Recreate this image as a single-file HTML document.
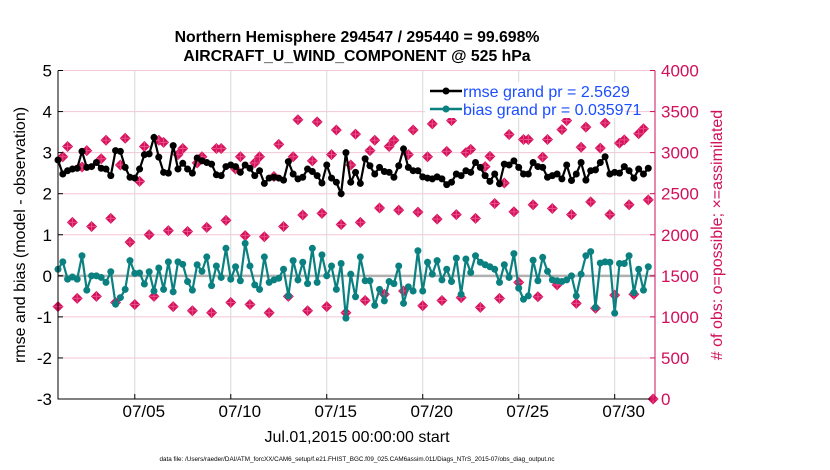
<!DOCTYPE html>
<html><head><meta charset="utf-8"><style>
body{margin:0;background:#fff;}
svg{display:block;font-family:"Liberation Sans",sans-serif;}
</style></head><body>
<svg id="chart" width="830" height="470">
<g id="grid"></g>
<g id="marks"></g>
<g id="axes"></g>
<text x="357" y="42" text-anchor="middle" font-size="15.8" font-weight="bold">Northern Hemisphere 294547 / 295440 = 99.698%</text>
<text x="357" y="61" text-anchor="middle" font-size="15.8" font-weight="bold">AIRCRAFT_U_WIND_COMPONENT @ 525 hPa</text>
<text transform="translate(25,235) rotate(-90)" text-anchor="middle" font-size="16">rmse and bias (model - observation)</text>
<text transform="translate(722,235) rotate(-90)" text-anchor="middle" font-size="16" fill="#d1105a"># of obs: o=possible; ×=assimilated</text>
<text x="357" y="442" text-anchor="middle" font-size="16">Jul.01,2015 00:00:00 start</text>
<text x="357" y="461" text-anchor="middle" font-size="6.3">data file: /Users/raeder/DAI/ATM_forcXX/CAM6_setup/f.e21.FHIST_BGC.f09_025.CAM6assim.011/Diags_NTrS_2015-07/obs_diag_output.nc</text>
<g>
<rect x="425" y="82" width="200" height="36" fill="#fff"/>
<g>
<line x1="430" y1="91" x2="462" y2="91" stroke="#000" stroke-width="2.5"/><circle cx="446" cy="91" r="3.5" fill="#000"/>
<text x="463" y="97" font-size="16" fill="#1a4dff">rmse grand pr = 2.5629</text></g>
<g>
<line x1="430" y1="109" x2="462" y2="109" stroke="#0a8080" stroke-width="2.5"/><circle cx="446" cy="109" r="3.5" fill="#0a8080"/>
<text x="463" y="115" font-size="16" fill="#1a4dff">bias grand pr = 0.035971</text></g>
</g>
</svg>
<script>
const rmse=[2.82,2.48,2.56,2.6,2.62,3.03,2.64,2.66,2.76,2.62,2.6,2.44,3.05,3.03,2.64,2.4,2.38,2.6,2.95,2.97,3.37,2.89,2.52,2.5,3.17,2.6,2.74,2.6,2.5,2.87,2.8,2.76,2.72,2.46,2.44,2.66,2.7,2.66,2.52,2.7,2.62,2.44,2.56,2.25,2.38,2.4,2.38,2.33,2.78,2.48,2.36,2.4,2.6,2.54,2.44,2.26,2.7,2.38,2.28,2.0,3.0,2.28,2.52,2.25,2.85,2.68,2.48,2.64,2.54,2.52,2.4,2.68,3.09,2.64,2.56,2.56,2.41,2.38,2.36,2.41,2.36,2.22,2.28,2.48,2.44,2.56,2.52,2.76,2.64,2.44,2.3,2.48,2.24,2.72,2.7,2.8,2.64,2.48,2.48,2.76,2.66,2.64,2.4,2.44,2.48,2.36,2.7,2.32,2.48,2.76,2.33,2.56,2.58,2.76,2.9,2.48,2.52,2.5,2.66,2.56,2.38,2.6,2.48,2.62];
const bias=[0.16,0.34,-0.08,-0.03,-0.08,0.49,-0.35,0,0,-0.04,-0.16,0.1,-0.69,-0.53,-0.33,0.37,0.06,0.07,-0.2,0.1,-0.37,0.19,-0.33,0.34,-0.39,0.34,0.28,-0.14,-0.35,0.27,0.11,0.46,-0.24,0.24,-0.04,0.67,-0.08,0.22,-0.12,0.79,0.24,-0.22,-0.33,0.46,-0.16,-0.1,-0.06,0.16,-0.49,0.37,-0.1,0.33,-0.19,0.67,-0.16,0.51,0,0.24,-0.33,0.3,-1.03,0.04,-0.51,0.46,-0.12,-0.12,-0.72,-0.33,-0.61,-0.14,-0.19,0.24,-0.67,-0.27,-0.37,0.61,-0.37,0.33,0.04,0.37,-0.1,0.16,-0.14,0.43,-0.45,0.41,0.08,0.49,0.33,0.27,0.22,0.16,-0.16,0.27,-0.04,0.54,-0.3,-0.57,-0.49,0.38,-0.12,0.45,0.11,-0.1,-0.12,-0.14,-0.1,0,-0.49,0.04,0.49,0.59,-0.77,0.31,0.34,0.33,-0.91,0.3,0.3,0.49,-0.41,0.16,-0.35,0.22];
const obsLeftUnits=[-0.75,2.9,3.15,1.3,-0.55,2.65,3.05,1.2,-0.5,2.85,3.3,1.4,-0.65,2.7,3.35,0.82,-0.7,2.3,3.15,1.0,-0.5,3.3,3.25,1.1,-0.75,2.95,3.1,1.08,-0.85,2.75,2.9,1.18,-0.9,3.1,3.1,1.35,-0.65,2.6,2.9,0.98,-0.7,2.75,2.9,0.95,-0.9,2.42,3.2,1.2,-0.5,2.9,3.8,1.48,-0.85,2.8,3.75,1.52,-0.75,2.95,3.55,1.25,-0.9,2.7,3.45,1.3,-0.6,3.05,3.3,1.65,-0.45,3.15,3.3,1.6,-0.37,2.95,3.55,1.55,-0.73,2.9,3.7,1.38,-0.6,3.03,3.78,1.49,-0.53,3.0,3.08,1.4,-0.77,2.66,2.91,1.76,-0.55,2.26,3.44,1.56,-0.16,3.32,3.32,1.73,-0.51,2.89,3.32,1.64,-0.22,3.56,3.78,1.49,-0.67,3.13,3.62,1.8,-0.79,3.11,3.72,1.49,-0.47,3.23,3.31,1.73,-0.45,3.46,3.58,1.85,-3];
const obsCount=obsLeftUnits.map(v=>Math.round((v+3)*500));
const leftTicks=[5,4,3,2,1,0,-1,-2,-3];
const rightTicks=[4000,3500,3000,2500,2000,1500,1000,500,0];
const xTickDays=[4,9,14,19,24,29];
const xTickLabels=["07/05","07/10","07/15","07/20","07/25","07/30"];

const NS="http://www.w3.org/2000/svg";
const L=58,R=655,T=70.5,B=399;
const DAYS=31.1;
const xs=d=>L+d/DAYS*(R-L);
const yl=v=>B-(v+3)/8*(B-T);
const yr=c=>B-c/4000*(B-T);
function mk(tag,attrs,parent){const e=document.createElementNS(NS,tag);for(const k in attrs)e.setAttribute(k,attrs[k]);parent.appendChild(e);return e;}
const grid=document.getElementById('grid'),marks=document.getElementById('marks'),axes=document.getElementById('axes');

leftTicks.forEach(v=>{const l=mk('line',{x1:L,x2:R,y1:yl(v),y2:yl(v),stroke:'#f3c6d6','stroke-width':1},grid);

});
xTickDays.forEach(d=>{const l=mk('line',{x1:xs(d),x2:xs(d),y1:T,y2:B,stroke:'#d8d8d8','stroke-width':1},grid);

});
const zl=mk('line',{x1:L,x2:R,y1:yl(0),y2:yl(0),stroke:'#b0b0b0','stroke-width':2.5},grid);



obsCount.forEach((c,i)=>{const x=xs(i*0.25),y=yr(c);
const g=mk('g',{},marks);


mk('path',{d:`M${x} ${y-5.5}L${x+5.5} ${y}L${x} ${y+5.5}L${x-5.5} ${y}Z`,fill:'#d6105a'},g);
mk('path',{d:`M${x-4.5} ${y}H${x+4.5}M${x} ${y-4.5}V${y+4.5}`,stroke:'#e8508a','stroke-width':1},g);});

function series(vals,color,name){
const pts=vals.map((v,i)=>xs(i*0.25).toFixed(1)+','+yl(v).toFixed(1)).join(' ');
const pl=mk('polyline',{points:pts,fill:'none',stroke:color,'stroke-width':2.2},marks);


vals.forEach((v,i)=>{const c=mk('circle',{cx:xs(i*0.25),cy:yl(v),r:3.5,fill:color},marks);

});}
series(bias,'#0a8080','bias');
series(rmse,'#000','rmse');

const ab=mk('path',{d:`M${L} ${T}V${B}H${R}`,stroke:'#000',fill:'none','stroke-width':1},axes);


const ar=mk('line',{x1:R,x2:R,y1:T,y2:B,stroke:'#d1105a','stroke-width':1},axes);


leftTicks.forEach(v=>{mk('line',{x1:L,x2:L+5,y1:yl(v),y2:yl(v),stroke:'#000'},axes);
const t=mk('text',{x:L-6,y:yl(v)+6,'text-anchor':'end','font-size':17},axes);t.textContent=v;

});
rightTicks.forEach(c=>{mk('line',{x1:R-5,x2:R,y1:yr(c),y2:yr(c),stroke:'#d1105a'},axes);
const t=mk('text',{x:R+6,y:yr(c)+6,'font-size':17,fill:'#d1105a'},axes);t.textContent=c;

});
xTickDays.forEach((d,i)=>{mk('line',{x1:xs(d),x2:xs(d),y1:B,y2:B-5,stroke:'#000'},axes);
const t=mk('text',{x:xs(d)+9,y:B+18,'text-anchor':'middle','font-size':17},axes);t.textContent=xTickLabels[i];

});
</script>
</body></html>
